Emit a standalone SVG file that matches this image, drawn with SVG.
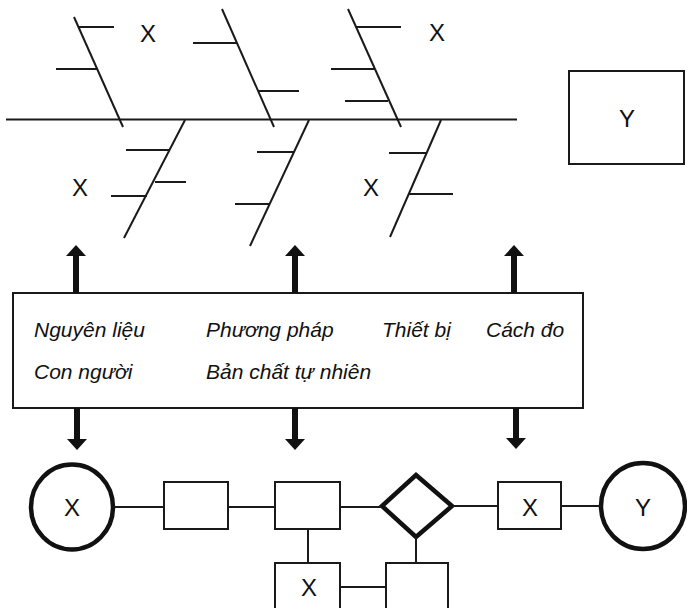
<svg xmlns="http://www.w3.org/2000/svg" width="687" height="608" viewBox="0 0 687 608">
  <style>
    .bone { stroke: #1a1a1a; stroke-width: 2; fill: none; stroke-linecap: butt; }
    .frame { stroke: #1a1a1a; stroke-width: 2; fill: #fff; }
    .thick { stroke: #111; stroke-width: 4.5; fill: #fff; }
    .link { stroke: #1a1a1a; stroke-width: 2; fill: none; }
    .arrow { stroke: #111; stroke-width: 6; fill: none; }
    .lbl { font-family: "Liberation Sans", Arial, sans-serif; font-size: 24px; fill: #111; text-anchor: middle; }
    .cause { font-family: "Liberation Sans", Arial, sans-serif; font-size: 21px; font-style: italic; fill: #111; }
  </style>
  <defs>
    <marker id="head" markerUnits="userSpaceOnUse" markerWidth="12" markerHeight="20" viewBox="0 0 12 20" refX="0" refY="10" orient="auto">
      <path d="M0,0 L11,10 L0,20 z" fill="#111"/>
    </marker>
  </defs>

  <rect width="687" height="608" fill="#fff"/>

  <!-- Fishbone skeleton -->
  <g id="fishbone">
    <line class="bone" x1="6" y1="119.5" x2="517" y2="119.5"/>
    <!-- upper bones -->
    <line class="bone" x1="74" y1="17" x2="123" y2="127"/>
    <line class="bone" x1="78" y1="27" x2="114" y2="27"/>
    <line class="bone" x1="56" y1="69" x2="97" y2="69"/>

    <line class="bone" x1="222" y1="9" x2="274" y2="127"/>
    <line class="bone" x1="193" y1="43" x2="237" y2="43"/>
    <line class="bone" x1="258" y1="91" x2="299" y2="91"/>

    <line class="bone" x1="348" y1="9" x2="401" y2="127"/>
    <line class="bone" x1="356" y1="27" x2="401" y2="27"/>
    <line class="bone" x1="331" y1="69" x2="374" y2="69"/>
    <line class="bone" x1="345" y1="101" x2="388" y2="101"/>

    <!-- lower bones -->
    <line class="bone" x1="185" y1="120" x2="124" y2="238"/>
    <line class="bone" x1="126" y1="150" x2="169" y2="150"/>
    <line class="bone" x1="155" y1="182" x2="186" y2="182"/>
    <line class="bone" x1="111" y1="196" x2="147" y2="196"/>

    <line class="bone" x1="309" y1="120" x2="250" y2="246"/>
    <line class="bone" x1="257" y1="152" x2="294" y2="152"/>
    <line class="bone" x1="235" y1="204" x2="270" y2="204"/>

    <line class="bone" x1="441" y1="120" x2="390" y2="237"/>
    <line class="bone" x1="389" y1="153" x2="427" y2="153"/>
    <line class="bone" x1="408" y1="194" x2="453" y2="194"/>

    <text class="lbl" x="148" y="42">X</text>
    <text class="lbl" x="437" y="41">X</text>
    <text class="lbl" x="80" y="196">X</text>
    <text class="lbl" x="371" y="196">X</text>
  </g>

  <g id="effect-box">
    <rect class="frame" x="569" y="71" width="115" height="93"/>
    <text class="lbl" x="627" y="127">Y</text>
  </g>

  <!-- Cause categories -->
  <g id="causes">
    <rect class="frame" x="13" y="293" width="570" height="115"/>
    <text class="cause" x="34" y="337">Nguyên liệu</text>
    <text class="cause" x="206" y="337">Phương pháp</text>
    <text class="cause" x="382" y="337">Thiết bị</text>
    <text class="cause" x="486" y="337">Cách đo</text>
    <text class="cause" x="34" y="379">Con người</text>
    <text class="cause" x="206" y="379">Bản chất tự nhiên</text>
  </g>

  <!-- Process flow nodes -->
  <g id="start">
    <ellipse class="thick" cx="72" cy="507" rx="41" ry="42.5"/>
    <text class="lbl" x="72" y="516">X</text>
  </g>
  <g id="step1">
    <rect class="frame" x="164" y="482" width="64" height="47"/>
  </g>
  <g id="step2">
    <rect class="frame" x="275" y="482" width="65" height="47"/>
  </g>
  <g id="decision">
    <polygon class="thick" points="416,475 452,506 416,537 382,506" stroke-width="5"/>
  </g>
  <g id="step3">
    <rect class="frame" x="498" y="482" width="63" height="47"/>
    <text class="lbl" x="530" y="516">X</text>
  </g>
  <g id="end">
    <ellipse class="thick" cx="643" cy="506" rx="42" ry="43"/>
    <text class="lbl" x="643" y="516">Y</text>
  </g>
  <g id="sub1">
    <rect class="frame" x="275" y="563" width="65" height="60"/>
    <text class="lbl" x="309" y="596">X</text>
  </g>
  <g id="sub2">
    <rect class="frame" x="386" y="563" width="62" height="60"/>
  </g>

  <!-- Connectors -->
  <g id="connectors">
    <line class="link" x1="114" y1="507" x2="164" y2="507"/>
    <line class="link" x1="228" y1="507" x2="275" y2="507"/>
    <line class="link" x1="340" y1="507" x2="382" y2="507"/>
    <line class="link" x1="452" y1="506" x2="498" y2="506"/>
    <line class="link" x1="561" y1="506" x2="601" y2="506"/>
    <line class="link" x1="308" y1="529" x2="308" y2="563"/>
    <line class="link" x1="416" y1="537" x2="416" y2="563"/>
    <line class="link" x1="340" y1="587" x2="386" y2="587"/>

    <line class="arrow" x1="76" y1="293" x2="76" y2="256" marker-end="url(#head)"/>
    <line class="arrow" x1="295" y1="293" x2="295" y2="256" marker-end="url(#head)"/>
    <line class="arrow" x1="514" y1="293" x2="514" y2="256" marker-end="url(#head)"/>

    <line class="arrow" x1="77" y1="408" x2="77" y2="439" marker-end="url(#head)"/>
    <line class="arrow" x1="295" y1="408" x2="295" y2="439" marker-end="url(#head)"/>
    <line class="arrow" x1="516" y1="408" x2="516" y2="438" marker-end="url(#head)"/>
  </g>
</svg>
